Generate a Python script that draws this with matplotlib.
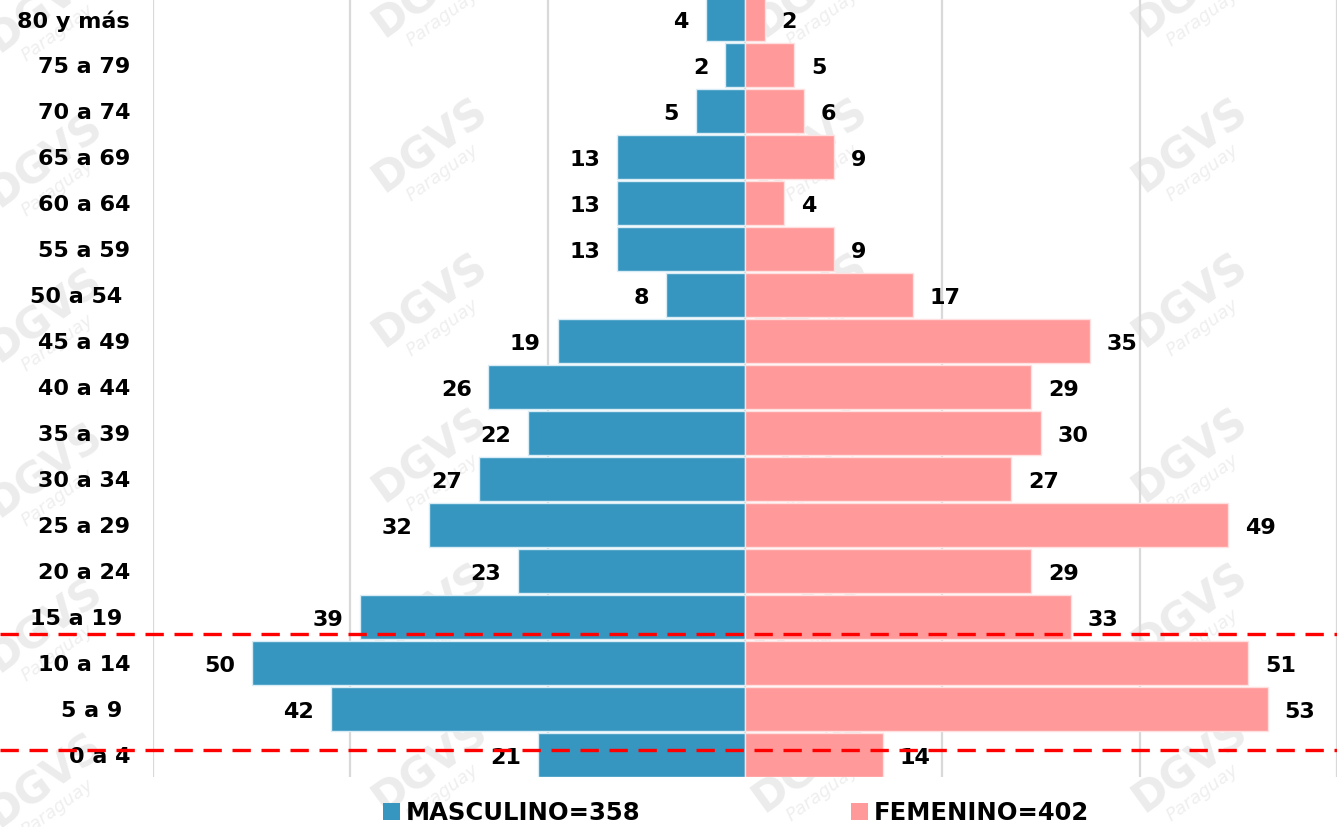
import matplotlib
matplotlib.use("Agg")
import matplotlib.pyplot as plt
from matplotlib.patches import Patch
from matplotlib.transforms import blended_transform_factory

age_groups = ["0 a 4", "5 a 9 ", "10 a 14", "15 a 19 ", "20 a 24", "25 a 29",
              "30 a 34", "35 a 39", "40 a 44", "45 a 49", "50 a 54 ", "55 a 59",
              "60 a 64", "65 a 69", "70 a 74", "75 a 79", "80 y más"]
masculino = [21, 42, 50, 39, 23, 32, 27, 22, 26, 19, 8, 13, 13, 13, 5, 2, 4]
femenino = [14, 53, 51, 33, 29, 49, 27, 30, 29, 35, 17, 9, 4, 9, 6, 5, 2]
legend_labels = ["MASCULINO=358", "FEMENINO=402"]
x_ticks = [-60, -40, -20, 0, 20, 40, 60]
cut_lines = [2.64, 0.11]
watermark_main = "DGVS"
watermark_sub = "Paraguay"

BLUE = "#3796BF"
PINK = "#FF999A"
FONT = ["DejaVu Sans"]

plt.rcParams['font.family'] = FONT
plt.rcParams['font.weight'] = 'bold'

fig = plt.figure(figsize=(13.37, 8.27), dpi=100)
ax = fig.add_axes([153 / 1337, 1 - 777 / 827, 1 - 153 / 1337, 777 / 827])
ax.set_facecolor('none')

# faint background watermark (behind the chart)
wm_cols = [45, 430, 810, 1190]
wm_rows = [-10, 145, 300, 455, 610, 765]
for cx in wm_cols:
    for cy in wm_rows:
        dy = 15 if cx == 45 else 0
        fig.text(cx / 1337, 1 - (cy + dy) / 827, watermark_main, rotation=36,
                 color="#ECECEC", fontsize=30, fontweight='bold',
                 ha='center', va='center', zorder=-2)
        fig.text((cx + 12) / 1337, 1 - (cy + dy + 28) / 827, watermark_sub,
                 rotation=36, color="#EFEFEF", fontsize=13, style='italic',
                 fontweight='normal', ha='center', va='center', zorder=-2)

y = list(range(len(age_groups)))
ax.barh(y, [-m for m in masculino], height=0.96, color=BLUE, edgecolor="#d8ecf5",
        linewidth=1, zorder=3)
ax.barh(y, femenino, height=0.96, color=PINK, edgecolor="#ffe0e0",
        linewidth=1, zorder=3)

for yi, m, f in zip(y, masculino, femenino):
    ax.annotate(str(m), xy=(-m, yi), xytext=(-12, -2), textcoords='offset points',
                ha='right', va='center', fontsize=16, fontweight='bold', zorder=5)
    ax.annotate(str(f), xy=(f, yi), xytext=(12, -2), textcoords='offset points',
                ha='left', va='center', fontsize=16, fontweight='bold', zorder=5)

ax.set_xlim(-60, 60)
ax.set_ylim(-0.48, 16.42)
ax.set_xticks(x_ticks)
ax.set_xticklabels([])
ax.tick_params(axis='x', length=0)
ax.grid(axis='x', color="#D9D9D9", linewidth=1.6, zorder=1)
ax.set_axisbelow(True)
ax.set_yticks(y)
ax.set_yticklabels(age_groups, ha='right', fontsize=16, fontweight='bold')
ax.tick_params(axis='y', length=0, pad=16.5)
for s in ax.spines.values():
    s.set_visible(False)

trans = blended_transform_factory(fig.transFigure, ax.transData)
for cl in cut_lines:
    ax.plot([0, 1], [cl, cl], transform=trans, color="#FF0000", linewidth=2.4,
            dashes=(5.5, 3.2), clip_on=False, zorder=6)

handles = [Patch(facecolor=BLUE), Patch(facecolor=PINK)]
fig.legend(handles, legend_labels, loc='center', bbox_to_anchor=(736 / 1337, 1 - 813 / 827),
           ncol=2, frameon=False, handlelength=0.7, handleheight=0.7,
           handletextpad=0.22, columnspacing=8.7, prop={'weight': 'bold', 'size': 17.5})

fig.savefig("out.png", dpi=100)
